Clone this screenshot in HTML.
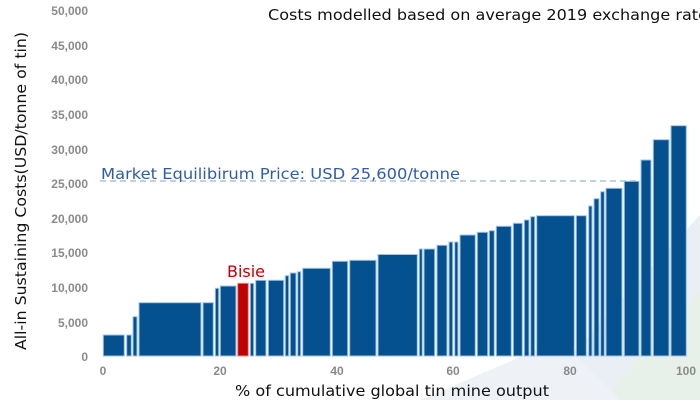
<!DOCTYPE html>
<html><head><meta charset="utf-8"><style>
html,body{margin:0;padding:0;background:#fff;}
svg{display:block;font-family:"DejaVu Sans","Liberation Sans",sans-serif;}
</style></head><body>
<svg width="700" height="400" viewBox="0 0 700 400" xmlns="http://www.w3.org/2000/svg">
<polygon points="530,400 700,215 700,400" fill="#eaeff5"/>
<polygon points="600,400 700,290 700,400" fill="#e8f0ea"/>
<polygon points="420,400 560,340 620,400" fill="#eef2f7"/>
<g font-size="12" font-weight="bold" fill="#8a8a8a" text-anchor="end" font-family="Liberation Sans, sans-serif">
<text x="88" y="15">50,000</text>
<text x="88" y="50">45,000</text>
<text x="88" y="84">40,000</text>
<text x="88" y="119">35,000</text>
<text x="88" y="154">30,000</text>
<text x="88" y="188">25,000</text>
<text x="88" y="223">20,000</text>
<text x="88" y="257">15,000</text>
<text x="88" y="292">10,000</text>
<text x="88" y="327">5,000</text>
<text x="88" y="361">0</text>
</g>
<g font-size="12" font-weight="bold" fill="#8a8a8a" text-anchor="middle" font-family="Liberation Sans, sans-serif">
<text x="103" y="375">0</text>
<text x="220" y="375">20</text>
<text x="337" y="375">40</text>
<text x="453" y="375">60</text>
<text x="570" y="375">80</text>
<text x="686" y="375">100</text>
</g>
<text x="235" y="396" font-size="15" fill="#111" textLength="314" lengthAdjust="spacingAndGlyphs">% of cumulative global tin mine output</text>
<text transform="translate(26,350) rotate(-90)" font-size="15" fill="#111" textLength="318" lengthAdjust="spacingAndGlyphs">All-in Sustaining Costs(USD/tonne of tin)</text>
<text x="268" y="20" font-size="15" fill="#111" textLength="440" lengthAdjust="spacingAndGlyphs">Costs modelled based on average 2019 exchange rate</text>
<line x1="100" y1="181" x2="640" y2="181" stroke="#a9c4d6" stroke-width="1.5" stroke-dasharray="6,4"/>
<text x="101" y="179" font-size="15" fill="#2f5ca8" textLength="359" lengthAdjust="spacingAndGlyphs">Market Equilibirum Price: USD 25,600/tonne</text>
<g fill="#05508f" stroke="#9fc4e6" stroke-width="1">
<rect x="103.3" y="335" width="21" height="21"/>
<rect x="126.7" y="335" width="4.6" height="21"/>
<rect x="133" y="316.7" width="4" height="39.3"/>
<rect x="139" y="302.7" width="62" height="53.3"/>
<rect x="203" y="302.7" width="10.3" height="53.3"/>
<rect x="215.3" y="288.3" width="3.4" height="67.7"/>
<rect x="220.3" y="286" width="15.7" height="70"/>
<rect x="250.3" y="283.3" width="3.4" height="72.7"/>
<rect x="255.7" y="280.3" width="10.3" height="75.7"/>
<rect x="268.3" y="280.3" width="15.4" height="75.7"/>
<rect x="285.3" y="275.7" width="3.4" height="80.3"/>
<rect x="290.3" y="273" width="5.7" height="83"/>
<rect x="297.7" y="271.7" width="3" height="84.3"/>
<rect x="302.7" y="268.3" width="27.6" height="87.7"/>
<rect x="332.3" y="261.3" width="15.4" height="94.7"/>
<rect x="349.7" y="260.3" width="26.3" height="95.7"/>
<rect x="378" y="254.5" width="39.3" height="101.5"/>
<rect x="419.3" y="249" width="3" height="107"/>
<rect x="424" y="249" width="10.7" height="107"/>
<rect x="437" y="245.3" width="10" height="110.7"/>
<rect x="449" y="242" width="3.7" height="114"/>
<rect x="454.7" y="242" width="3.3" height="114"/>
<rect x="460" y="235" width="15.3" height="121"/>
<rect x="477.3" y="232.3" width="10.4" height="123.7"/>
<rect x="489.3" y="230.7" width="5" height="125.3"/>
<rect x="496.3" y="226.3" width="15" height="129.7"/>
<rect x="513.3" y="223.3" width="9" height="132.7"/>
<rect x="524.3" y="220" width="4.7" height="136"/>
<rect x="530.7" y="216.7" width="4" height="139.3"/>
<rect x="536.7" y="215.7" width="37.6" height="140.3"/>
<rect x="576.3" y="215.7" width="10" height="140.3"/>
<rect x="588.7" y="206" width="3.3" height="150"/>
<rect x="594" y="198.7" width="5" height="157.3"/>
<rect x="600.7" y="191.7" width="3.6" height="164.3"/>
<rect x="606" y="188.3" width="16" height="167.7"/>
<rect x="624.3" y="181.3" width="14.7" height="174.7"/>
<rect x="641" y="160" width="10" height="196"/>
<rect x="653.3" y="139.7" width="15.7" height="216.3"/>
<rect x="671" y="125.7" width="15.3" height="230.3"/>
</g>
<rect x="237.7" y="283.3" width="10.6" height="72.7" fill="#c00000" stroke="#e89090" stroke-width="1"/>
<text x="246" y="277" font-size="16" text-anchor="middle" fill="#c00000">Bisie</text>
</svg>
</body></html>
